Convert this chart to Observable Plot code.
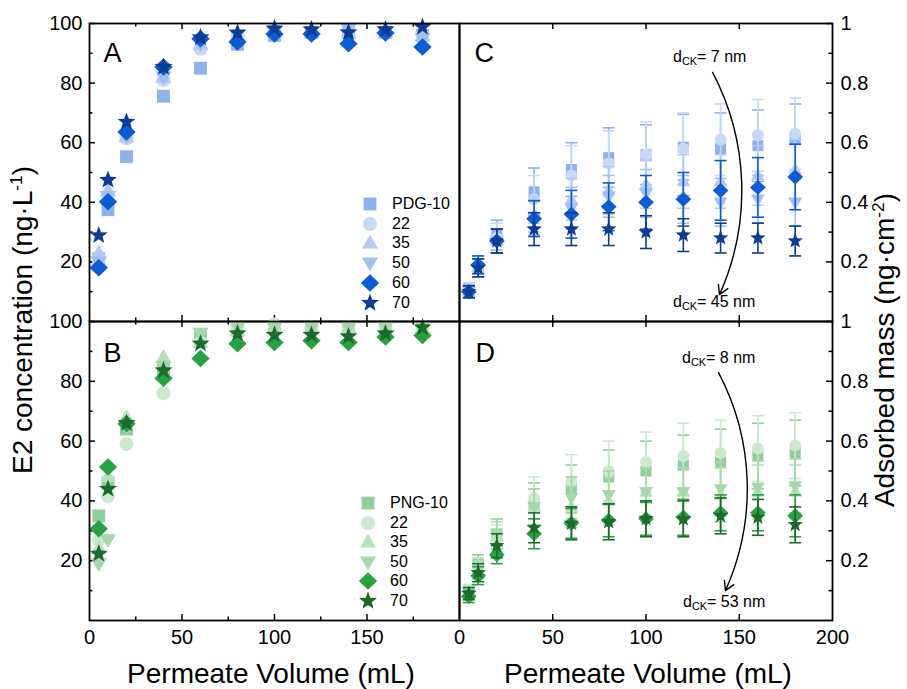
<!DOCTYPE html>
<html><head><meta charset="utf-8">
<script src="https://cdn.jsdelivr.net/npm/d3@7"></script>
<script src="https://cdn.jsdelivr.net/npm/@observablehq/plot@0.6"></script>
<style>
body{margin:0;background:#fff;}
#chart{position:relative;width:907px;height:689px;overflow:hidden;background:#fff;font-family:"Liberation Sans",Arial,sans-serif;color:#000;}
#chart svg{position:absolute;}
.lbl{position:absolute;white-space:nowrap;line-height:1;}
.lbl sup{font-size:62%;vertical-align:baseline;position:relative;top:-0.6em;}
.lbl sub{font-size:68%;vertical-align:baseline;position:relative;top:0.3em;}
</style></head><body><div id="chart"></div>
<script>
// ---------- data ----------
const volume = [5, 10, 20, 40, 60, 80, 100, 120, 140, 160, 180];
const legendA = ["PDG-10", "22", "35", "50", "60", "70"];
const legendB = ["PNG-10", "22", "35", "50", "60", "70"];
const blueColors = ["#8db3ee", "#c8d9f6", "#b3cbf3", "#a2bff1", "#0b5cd5", "#0c3c93"];
const greenColors = ["#8fcf9a", "#cce9cf", "#b7e0bb", "#a6d8ab", "#27a23f", "#1c6a2c"];

// Panel A: E2 concentration (ng/L), PDG membranes
const a10 = [21, 37.5, 55.3, 75.6, 85, 93, 96, 97, 97, 97, 96];
const a22 = [21, 42, 61.5, 81, 91.5, 96, 97, 97, 98, 97, 96];
const a35 = [23, 44, 62, 82, 93, 96, 97, 97, 97, 97, 96];
const a50 = [20, 42, 62, 82, 93, 96, 97, 97, 98, 97, 95];
const a60 = [18, 40.2, 63.6, 85.4, 94.9, 93.8, 96.5, 96.5, 93.2, 96.8, 92.1];
const a70 = [28.9, 47.5, 67, 85.4, 95.3, 96.9, 98.3, 98, 97, 98, 98.8];

// Panel B: E2 concentration (ng/L), PNG membranes
const b10 = [35, 46, 64, 84, 95, 97, 98, 98, 98, 98, 98];
const b22 = [27, 41.5, 59, 76, 93, 98, 99, 98, 98, 98, 98];
const b35 = [24, 48, 68, 88, 93, 97, 98, 98, 98, 98, 98];
const b50 = [19, 27, 64.7, 85, 96, 98, 98, 98, 98, 98, 98];
const b60 = [30.7, 51.3, 65.8, 81, 87.6, 92.6, 93, 93.6, 93, 94.8, 95.3];
const b70 = [22.3, 44, 66, 83.6, 92.6, 96, 95.5, 95.5, 95, 96, 98];

// Panel C: adsorbed mass (ng/cm2), PDG membranes, with errors
const c10 = [0.11, 0.18, 0.29, 0.435, 0.51, 0.55, 0.56, 0.585, 0.58, 0.59, 0.61];
const c22 = [0.11, 0.19, 0.28, 0.41, 0.49, 0.53, 0.56, 0.58, 0.61, 0.625, 0.63];
const c35 = [0.10, 0.18, 0.27, 0.36, 0.41, 0.44, 0.46, 0.47, 0.47, 0.49, 0.51];
const c50 = [0.10, 0.18, 0.27, 0.35, 0.38, 0.42, 0.43, 0.41, 0.40, 0.41, 0.40];
const c60 = [0.10, 0.19, 0.27, 0.345, 0.36, 0.385, 0.40, 0.41, 0.44, 0.45, 0.485];
const c70 = [0.10, 0.18, 0.27, 0.31, 0.31, 0.31, 0.30, 0.29, 0.28, 0.28, 0.27];
const c10err = [0.02, 0.03, 0.05, 0.08, 0.09, 0.10, 0.10, 0.11, 0.12, 0.12, 0.12];
const c22err = [0.02, 0.03, 0.05, 0.08, 0.10, 0.11, 0.11, 0.12, 0.12, 0.12, 0.12];
const c35err = [0.02, 0.03, 0.04, 0.06, 0.07, 0.08, 0.08, 0.09, 0.09, 0.10, 0.10];
const c50err = [0.02, 0.03, 0.04, 0.06, 0.07, 0.07, 0.08, 0.08, 0.08, 0.08, 0.08];
const c60err = [0.02, 0.03, 0.04, 0.06, 0.08, 0.08, 0.09, 0.09, 0.10, 0.10, 0.11];
const c70err = [0.02, 0.03, 0.04, 0.055, 0.055, 0.055, 0.055, 0.055, 0.05, 0.05, 0.05];

// Panel D: adsorbed mass (ng/cm2), PNG membranes, with errors
const d10 = [0.10, 0.19, 0.29, 0.39, 0.44, 0.48, 0.50, 0.52, 0.53, 0.55, 0.56];
const d22 = [0.10, 0.18, 0.27, 0.41, 0.465, 0.50, 0.53, 0.55, 0.56, 0.575, 0.585];
const d35 = [0.09, 0.17, 0.28, 0.38, 0.38, 0.40, 0.43, 0.43, 0.42, 0.43, 0.43];
const d50 = [0.09, 0.17, 0.29, 0.38, 0.41, 0.42, 0.43, 0.43, 0.44, 0.445, 0.45];
const d60 = [0.08, 0.15, 0.22, 0.29, 0.325, 0.335, 0.34, 0.345, 0.36, 0.36, 0.35];
const d70 = [0.09, 0.16, 0.25, 0.31, 0.325, 0.33, 0.34, 0.34, 0.35, 0.345, 0.32];
const d10err = [0.02, 0.03, 0.05, 0.07, 0.08, 0.09, 0.10, 0.10, 0.11, 0.11, 0.11];
const d22err = [0.02, 0.03, 0.05, 0.07, 0.09, 0.10, 0.10, 0.11, 0.11, 0.11, 0.11];
const d35err = [0.02, 0.03, 0.05, 0.06, 0.07, 0.08, 0.08, 0.08, 0.09, 0.09, 0.09];
const d50err = [0.02, 0.03, 0.05, 0.06, 0.07, 0.08, 0.08, 0.08, 0.09, 0.09, 0.09];
const d60err = [0.02, 0.03, 0.03, 0.05, 0.05, 0.055, 0.055, 0.06, 0.06, 0.06, 0.07];
const d70err = [0.02, 0.03, 0.04, 0.05, 0.055, 0.06, 0.06, 0.06, 0.06, 0.06, 0.06];

// axis ticks
const concLabels = [20, 40, 60, 80, 100];
const concMinor = [10, 30, 50, 70, 90];
const massLabels = [0.2, 0.4, 0.6, 0.8, 1];
const massMinor = [0.1, 0.3, 0.5, 0.7, 0.9];
const volLabelsLeft = [0, 50, 100, 150];
const volLabelsRight = [0, 50, 100, 150, 200];
const volMajor = [50, 100, 150];
const volMinor = [25, 75, 125, 175];

// annotations (data units of panels C and D)
const annotC = ["7 nm", "45 nm"];
const annotD = ["8 nm", "53 nm"];
const arrowC = [{x1: 135.7, y1: 0.836, x2: 139.4, y2: 0.09}];
const arrowD = [{x1: 138.9, y1: 0.829, x2: 142.6, y2: 0.10}];

// ---------- symbols ----------
const rad = s => Math.sqrt(s / Math.PI);
const SYM = {
  square: {draw(c, s) { const h = rad(s) * 0.92; c.moveTo(-h, -h); c.lineTo(h, -h); c.lineTo(h, h); c.lineTo(-h, h); c.closePath(); }},
  circle: {draw(c, s) { const r = rad(s); c.moveTo(r, 0); c.arc(0, 0, r, 0, 2 * Math.PI); c.closePath(); }},
  triUp: {draw(c, s) { const r = rad(s) * 1.18; c.moveTo(0, -r); c.lineTo(r * 0.98, r * 0.68); c.lineTo(-r * 0.98, r * 0.68); c.closePath(); }},
  triDown: {draw(c, s) { const r = rad(s) * 1.18; c.moveTo(0, r); c.lineTo(r * 0.98, -r * 0.68); c.lineTo(-r * 0.98, -r * 0.68); c.closePath(); }},
  diamond: {draw(c, s) { const r = rad(s) * 1.25; c.moveTo(0, -r); c.lineTo(r * 1.05, 0); c.lineTo(0, r); c.lineTo(-r * 1.05, 0); c.closePath(); }},
  star: {draw(c, s) { const R = rad(s) * 1.35, ri = R * 0.42; for (let i = 0; i < 10; i++) { const a = -Math.PI / 2 + i * Math.PI / 5, rr = i % 2 ? ri : R; const x = rr * Math.cos(a), y = rr * Math.sin(a); if (i) c.lineTo(x, y); else c.moveTo(x, y); } c.closePath(); }},
  cap: {draw(c, s) { const r = rad(s); c.moveTo(-r, 0); c.lineTo(r, 0); }}
};
const symbolOrder = [SYM.square, SYM.circle, SYM.triUp, SYM.triDown, SYM.diamond, SYM.star];

const chart = document.getElementById("chart");
const FONT = '"Liberation Sans", Arial, sans-serif';

function series(valuesList, colors, errList) {
  return valuesList.map((vals, i) => ({
    rows: volume.map((v, j) => ({v, m: vals[j], e: errList ? errList[i][j] : 0})),
    color: colors[i], symbol: symbolOrder[i], hasErr: !!errList
  }));
}

function panel(o) {
  const width = o.mL + o.fw + o.mR, height = o.mT + o.fh + o.mB;
  const marks = [];
  const tk = {stroke: "black", strokeWidth: 1.5};
  const yIn = (vals, len) => o.yAnchor === "left"
    ? Plot.tickY(vals, {y: d => d, insetRight: o.fw - len, ...tk})
    : Plot.tickY(vals, {y: d => d, insetLeft: o.fw - len, ...tk});
  marks.push(yIn(o.yLabels, 6), yIn(o.yMinor, 3.5));
  const xTop = (vals, len) => Plot.tickX(vals, {x: d => d, insetBottom: o.fh - len, ...tk});
  const xBot = (vals, len) => Plot.tickX(vals, {x: d => d, insetTop: o.fh - len, ...tk});
  marks.push(xTop(volMajor, 6), xBot(volMajor, 6));
  if (o.xMinor) marks.push(xTop(o.xMinor, 3.5), xBot(o.xMinor, 3.5));
  marks.push(Plot.axisY({anchor: o.yAnchor, ticks: o.yLabels, tickSize: 0, tickPadding: o.yAnchor === "left" ? 7 : 8,
    tickFormat: d => String(d), label: null, fontSize: 20}));
  if (o.xLabels) marks.push(Plot.axisX({anchor: "bottom", ticks: o.xLabels, tickSize: 0, tickPadding: 9,
    tickFormat: d => String(d), label: null, fontSize: 20}));
  o.series.forEach(s => {
    if (s.hasErr) {
      marks.push(Plot.ruleX(s.rows, {x: "v", y1: d => d.m - d.e, y2: d => d.m + d.e, stroke: s.color, strokeWidth: 1.6}));
      marks.push(Plot.dot(s.rows, {x: "v", y: d => d.m + d.e, symbol: SYM.cap, r: 6, stroke: s.color, strokeWidth: 1.6, fill: "none"}));
      marks.push(Plot.dot(s.rows, {x: "v", y: d => d.m - d.e, symbol: SYM.cap, r: 6, stroke: s.color, strokeWidth: 1.6, fill: "none"}));
    }
    marks.push(Plot.dot(s.rows, {x: "v", y: "m", symbol: s.symbol, r: o.r, fill: s.color, stroke: "none"}));
  });
  if (o.arrow) marks.push(Plot.arrow(o.arrow, {x1: "x1", y1: "y1", x2: "x2", y2: "y2", bend: 26, stroke: "black", strokeWidth: 1.4, headLength: 11}));
  marks.push(Plot.text([o.letter], {text: d => d, frameAnchor: "top-left", textAnchor: "start", lineAnchor: "top",
    dx: o.ldx, dy: o.ldy, fontSize: 27, fill: "black"}));
  marks.push(Plot.frame({stroke: "black", strokeWidth: 1.8}));
  const xOpts = {domain: [0, 200]};
  if (!o.xLabels) xOpts.axis = null;
  const svg = Plot.plot({
    width, height, marginLeft: o.mL, marginRight: o.mR, marginTop: o.mT, marginBottom: o.mB,
    x: xOpts, y: {domain: o.yDomain},
    style: {background: "none", overflow: "visible", fontFamily: FONT, fontSize: "20px", color: "black"},
    marks
  });
  svg.style.left = o.left + "px";
  svg.style.top = o.top + "px";
  chart.appendChild(svg);
}

panel({left: 0, top: 0, mL: 89, fw: 370, mR: 0, mT: 23, fh: 298, mB: 0, yDomain: [0, 100], yAnchor: "left",
  yLabels: concLabels, yMinor: concMinor, xMinor: volMinor, xLabels: null, r: 7, letter: "A", ldx: 14, ldy: 19,
  series: series([a10, a22, a35, a50, a60, a70], blueColors)});
panel({left: 0, top: 321, mL: 89, fw: 370, mR: 0, mT: 0, fh: 299, mB: 40, yDomain: [0, 100], yAnchor: "left",
  yLabels: concLabels, yMinor: concMinor, xMinor: volMinor, xLabels: volLabelsLeft, r: 7, letter: "B", ldx: 14, ldy: 21,
  series: series([b10, b22, b35, b50, b60, b70], greenColors)});
panel({left: 459, top: 0, mL: 0, fw: 373, mR: 75, mT: 23, fh: 298, mB: 0, yDomain: [0, 1], yAnchor: "right",
  yLabels: massLabels, yMinor: massMinor, xMinor: null, xLabels: null, r: 6, letter: "C", ldx: 15, ldy: 19, arrow: arrowC,
  series: series([c10, c22, c35, c50, c60, c70], blueColors, [c10err, c22err, c35err, c50err, c60err, c70err])});
panel({left: 459, top: 321, mL: 0, fw: 373, mR: 75, mT: 0, fh: 299, mB: 40, yDomain: [0, 1], yAnchor: "right",
  yLabels: massLabels, yMinor: massMinor, xMinor: null, xLabels: volLabelsRight, r: 6, letter: "D", ldx: 16, ldy: 21, arrow: arrowD,
  series: series([d10, d22, d35, d50, d60, d70], greenColors, [d10err, d22err, d35err, d50err, d60err, d70err])});

// ---------- text labels ----------
function label(html, x, y, size, rotate) {
  const d = document.createElement("div");
  d.className = "lbl";
  d.innerHTML = html;
  d.style.fontSize = size + "px";
  d.style.left = x + "px";
  d.style.top = y + "px";
  d.style.transform = "translate(-50%,-50%)" + (rotate ? " rotate(-90deg)" : "");
  chart.appendChild(d);
}
label("E2 concentration (ng·L<sup>-1</sup>)", 23, 320, 28, true);
label("Adsorbed mass (ng·cm<sup>-2</sup>)", 885, 350, 28, true);
label("Permeate Volume (mL)", 271, 674, 28, false);
label("Permeate Volume (mL)", 648, 674, 28, false);

function leftLabel(html, x, y, size) {
  const d = document.createElement("div");
  d.className = "lbl";
  d.innerHTML = html;
  d.style.fontSize = size + "px";
  d.style.left = x + "px";
  d.style.top = y + "px";
  d.style.transform = "translate(0,-50%)";
  chart.appendChild(d);
}
leftLabel("d<sub>CK</sub>= " + annotC[0], 673, 57, 16);
leftLabel("d<sub>CK</sub>= " + annotC[1], 673, 302, 16);
leftLabel("d<sub>CK</sub>= " + annotD[0], 682, 358, 16);
leftLabel("d<sub>CK</sub>= " + annotD[1], 683, 602, 16);

// ---------- legends ----------
function legend(names, colors, sx, tx, y0, step) {
  names.forEach((name, i) => {
    const yc = y0 + i * step;
    const svg = d3.create("svg").attr("width", 22).attr("height", 22)
      .style("left", (sx - 11) + "px").style("top", (yc - 11) + "px").style("position", "absolute");
    const p = d3.path();
    symbolOrder[i].draw(p, Math.PI * 7 * 7);
    svg.append("path").attr("d", p.toString()).attr("transform", "translate(11,11)").attr("fill", colors[i]);
    chart.appendChild(svg.node());
    leftLabel(name, tx, yc, 16);
  });
}
legend(legendA, blueColors, 370, 392, 204, 19.7);
legend(legendB, greenColors, 368, 390, 503, 19.5);
</script>
</body></html>
